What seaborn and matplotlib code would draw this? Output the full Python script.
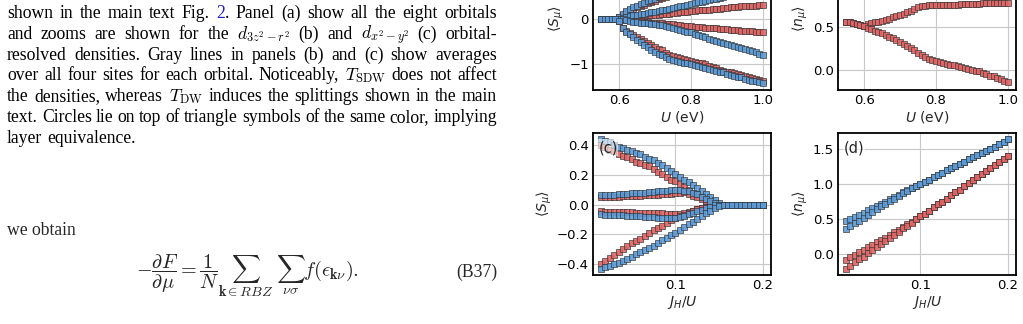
import numpy as np
import matplotlib
matplotlib.use("Agg")
import matplotlib.pyplot as plt
import seaborn as sns

# ---- data ----
U = [0.55, 0.56, 0.57, 0.58, 0.59, 0.60, 0.61, 0.62, 0.63, 0.64,
     0.65, 0.66, 0.67, 0.68, 0.69, 0.70, 0.71, 0.72, 0.73, 0.74,
     0.75, 0.76, 0.77, 0.78, 0.79, 0.80, 0.81, 0.82, 0.83, 0.84,
     0.85, 0.86, 0.87, 0.88, 0.89, 0.90, 0.91, 0.92, 0.93, 0.94,
     0.95, 0.96, 0.97, 0.98, 0.99, 1.00]

# panel (a): <S_mu> vs U
ra_up = [0, 0, 0, 0, 0, 0.04, 0.10, 0.15, 0.19, 0.23, 0.26, 0.29, 0.32, 0.35, 0.38, 0.41,
         0.44, 0.47, 0.50, 0.53, 0.56, 0.59, 0.62, 0.65, 0.68, 0.71, 0.74, 0.77, 0.80, 0.83,
         0.86, 0.89, 0.92, 0.95, 0.98, 1.01, 1.04, 1.07, 1.10, 1.13, 1.16, 1.19, 1.23, 1.27, 1.32, 1.37]
ra_um = [0, 0, 0, 0, 0, 0.00, 0.01, 0.02, 0.04, 0.05, 0.06, 0.07, 0.07, 0.08, 0.09, 0.10,
         0.10, 0.11, 0.12, 0.12, 0.13, 0.14, 0.15, 0.16, 0.16, 0.17, 0.18, 0.19, 0.20, 0.20,
         0.21, 0.22, 0.23, 0.23, 0.24, 0.25, 0.26, 0.26, 0.27, 0.28, 0.28, 0.29, 0.30, 0.30, 0.31, 0.32]
ra_lm = [0, 0, 0, 0, 0, 0.00, -0.01, -0.02, -0.03, -0.04, -0.04, -0.05, -0.06, -0.07, -0.08, -0.08,
         -0.09, -0.10, -0.11, -0.12, -0.12, -0.13, -0.14, -0.15, -0.15, -0.16, -0.17, -0.18, -0.18, -0.19,
         -0.20, -0.20, -0.21, -0.22, -0.22, -0.23, -0.24, -0.24, -0.25, -0.26, -0.26, -0.27, -0.27, -0.28, -0.28, -0.29]
ra_lo = [0, 0, 0, 0, 0, -0.05, -0.20, -0.27, -0.31, -0.35, -0.39, -0.44, -0.49, -0.54, -0.58, -0.62,
         -0.66, -0.70, -0.75, -0.79, -0.82, -0.85, -0.87, -0.89, -0.91, -0.93, -0.95, -0.97, -0.99, -1.01,
         -1.04, -1.07, -1.10, -1.13, -1.15, -1.17, -1.19, -1.21, -1.23, -1.25, -1.27, -1.29, -1.31, -1.33, -1.35, -1.37]
ba_up = [0, 0, 0, 0, 0, 0.05, 0.12, 0.18, 0.22, 0.26, 0.30, 0.33, 0.36, 0.39, 0.42, 0.45,
         0.48, 0.51, 0.54, 0.57, 0.60, 0.63, 0.66, 0.69, 0.72, 0.75, 0.78, 0.81, 0.84, 0.87,
         0.90, 0.93, 0.96, 0.99, 1.02, 1.05, 1.08, 1.12, 1.16, 1.20, 1.24, 1.28, 1.32, 1.36, 1.40, 1.43]
ba_um = [0, 0, 0, 0, 0, 0.00, 0.02, 0.04, 0.06, 0.08, 0.10, 0.11, 0.12, 0.14, 0.15, 0.16,
         0.17, 0.19, 0.20, 0.22, 0.24, 0.26, 0.28, 0.30, 0.31, 0.33, 0.35, 0.37, 0.38, 0.40,
         0.42, 0.44, 0.45, 0.47, 0.49, 0.51, 0.53, 0.55, 0.57, 0.59, 0.61, 0.63, 0.65, 0.67, 0.69, 0.71]
ba_lm = [0, 0, 0, 0, 0, 0.00, -0.01, -0.03, -0.04, -0.06, -0.07, -0.08, -0.09, -0.10, -0.11, -0.12,
         -0.13, -0.14, -0.16, -0.18, -0.20, -0.22, -0.24, -0.26, -0.28, -0.30, -0.33, -0.36, -0.38, -0.41,
         -0.44, -0.47, -0.49, -0.52, -0.54, -0.56, -0.58, -0.60, -0.62, -0.65, -0.67, -0.70, -0.72, -0.74, -0.77, -0.79]
ba_lo = [0, 0, 0, 0, 0, -0.05, -0.20, -0.28, -0.34, -0.40, -0.46, -0.52, -0.58, -0.63, -0.68, -0.73,
         -0.77, -0.81, -0.85, -0.88, -0.91, -0.93, -0.95, -0.97, -0.99, -1.01, -1.03, -1.05, -1.07, -1.09,
         -1.11, -1.13, -1.15, -1.17, -1.19, -1.22, -1.24, -1.26, -1.28, -1.30, -1.33, -1.35, -1.37, -1.39, -1.41, -1.43]

# panel (b): <n_mu> vs U
rb_up = [0.57, 0.56, 0.55, 0.54, 0.53, 0.52, 0.54, 0.55, 0.56, 0.57, 0.58, 0.59, 0.60, 0.62, 0.63, 0.65,
         0.66, 0.68, 0.70, 0.72, 0.74, 0.75, 0.755, 0.76, 0.76, 0.76, 0.765, 0.765, 0.77, 0.77,
         0.77, 0.77, 0.775, 0.775, 0.78, 0.78, 0.78, 0.78, 0.785, 0.785, 0.79, 0.79, 0.79, 0.79, 0.795, 0.795]
rb_lo = [0.57, 0.56, 0.55, 0.54, 0.53, 0.52, 0.49, 0.48, 0.46, 0.45, 0.43, 0.41, 0.39, 0.37, 0.35, 0.33,
         0.31, 0.28, 0.26, 0.23, 0.20, 0.17, 0.15, 0.13, 0.115, 0.10, 0.09, 0.08, 0.07, 0.06,
         0.05, 0.04, 0.03, 0.02, 0.01, 0.00, -0.01, -0.02, -0.04, -0.05, -0.07, -0.08, -0.10, -0.11, -0.13, -0.15]

JH = [0.015, 0.020, 0.025, 0.030, 0.035, 0.040, 0.045, 0.050, 0.055, 0.060,
      0.065, 0.070, 0.075, 0.080, 0.085, 0.090, 0.095, 0.100, 0.105, 0.110,
      0.115, 0.120, 0.125, 0.130, 0.135, 0.140, 0.145, 0.150, 0.155, 0.160,
      0.165, 0.170, 0.175, 0.180, 0.185, 0.190, 0.195, 0.200]

# panel (c): <S_mu> vs J_H/U
rc_up = [0.40, 0.39, 0.37, 0.36, 0.34, 0.33, 0.32, 0.31, 0.29, 0.28, 0.27, 0.26, 0.24, 0.22, 0.21, 0.19,
         0.17, 0.16, 0.14, 0.12, 0.10, 0.08, 0.07, 0.05, 0.03, 0.01, 0.0, 0, 0, 0, 0, 0, 0, 0, 0, 0, 0, 0]
rc_um = [0.050, 0.051, 0.052, 0.053, 0.054, 0.056, 0.057, 0.058, 0.060, 0.061, 0.063, 0.065, 0.067,
         0.069, 0.071, 0.073, 0.075, 0.078, 0.082, 0.085, 0.075, 0.062, 0.050, 0.038, 0.025, 0.012,
         0.0, 0, 0, 0, 0, 0, 0, 0, 0, 0, 0, 0]
rc_lm = [-0.045, -0.046, -0.047, -0.048, -0.049, -0.050, -0.051, -0.052, -0.053, -0.054, -0.055, -0.056,
         -0.057, -0.058, -0.059, -0.060, -0.062, -0.064, -0.062, -0.055, -0.048, -0.040, -0.032, -0.024,
         -0.016, -0.008, 0.0, 0, 0, 0, 0, 0, 0, 0, 0, 0, 0, 0]
rc_lo = [-0.40, -0.38, -0.36, -0.34, -0.32, -0.30, -0.28, -0.26, -0.245, -0.23, -0.21, -0.19, -0.17,
         -0.155, -0.14, -0.12, -0.105, -0.09, -0.078, -0.066, -0.054, -0.042, -0.03, -0.02, -0.012,
         -0.005, 0.0, 0, 0, 0, 0, 0, 0, 0, 0, 0, 0, 0]
bc_up = [0.44, 0.43, 0.42, 0.40, 0.39, 0.38, 0.37, 0.36, 0.35, 0.34, 0.32, 0.31, 0.30, 0.28, 0.27, 0.25,
         0.23, 0.21, 0.19, 0.17, 0.15, 0.13, 0.11, 0.09, 0.07, 0.05, 0.03, 0.01, 0, 0, 0, 0, 0, 0, 0, 0, 0, 0]
bc_um = [0.065, 0.066, 0.067, 0.068, 0.070, 0.072, 0.074, 0.076, 0.078, 0.080, 0.082, 0.085, 0.088,
         0.090, 0.093, 0.095, 0.098, 0.100, 0.100, 0.095, 0.090, 0.080, 0.070, 0.055, 0.040, 0.025,
         0.010, 0.0, 0, 0, 0, 0, 0, 0, 0, 0, 0, 0]
bc_lm = [-0.065, -0.066, -0.067, -0.068, -0.070, -0.071, -0.073, -0.074, -0.076, -0.078, -0.080, -0.082,
         -0.084, -0.086, -0.088, -0.090, -0.092, -0.092, -0.085, -0.075, -0.065, -0.055, -0.045, -0.035,
         -0.025, -0.015, -0.005, 0.0, 0, 0, 0, 0, 0, 0, 0, 0, 0, 0]
bc_lo = [-0.43, -0.42, -0.41, -0.40, -0.39, -0.38, -0.365, -0.35, -0.335, -0.32, -0.305, -0.29, -0.275,
         -0.26, -0.24, -0.225, -0.205, -0.19, -0.17, -0.15, -0.13, -0.115, -0.095, -0.075, -0.055,
         -0.04, -0.025, -0.01, 0, 0, 0, 0, 0, 0, 0, 0, 0, 0]

# panel (d): <n_mu> vs J_H/U
rd_up = [-0.08, -0.04, -0.01, 0.03, 0.06, 0.10, 0.13, 0.17, 0.21, 0.24, 0.28, 0.32, 0.35, 0.39, 0.43, 0.46,
         0.50, 0.54, 0.58, 0.62, 0.67, 0.71, 0.75, 0.79, 0.84, 0.88, 0.92, 0.97, 1.01, 1.05,
         1.10, 1.14, 1.18, 1.23, 1.27, 1.31, 1.36, 1.40]
rd_lo = [-0.20, -0.16, -0.11, -0.07, -0.03, 0.02, 0.06, 0.10, 0.15, 0.19, 0.23, 0.28, 0.32, 0.37, 0.41, 0.45,
         0.50, 0.54, 0.58, 0.62, 0.67, 0.71, 0.75, 0.79, 0.84, 0.88, 0.92, 0.97, 1.01, 1.05,
         1.10, 1.14, 1.18, 1.23, 1.27, 1.31, 1.36, 1.40]
bd_up = [0.47, 0.50, 0.53, 0.56, 0.59, 0.63, 0.66, 0.69, 0.72, 0.75, 0.78, 0.81, 0.84, 0.88, 0.91, 0.94,
         0.97, 1.00, 1.03, 1.06, 1.10, 1.13, 1.16, 1.19, 1.22, 1.25, 1.28, 1.31, 1.35, 1.38,
         1.41, 1.44, 1.47, 1.50, 1.53, 1.56, 1.60, 1.63]
bd_lo = [0.36, 0.40, 0.44, 0.48, 0.52, 0.56, 0.60, 0.64, 0.68, 0.72, 0.76, 0.79, 0.83, 0.87, 0.90, 0.94,
         0.97, 1.00, 1.03, 1.06, 1.10, 1.13, 1.16, 1.19, 1.22, 1.25, 1.28, 1.31, 1.35, 1.38,
         1.41, 1.44, 1.47, 1.50, 1.53, 1.56, 1.60, 1.63]

RED = "#e06464"
BLUE = "#5b9bd8"

sns.set_style("whitegrid", {"axes.edgecolor": "black", "grid.color": "#c8c8c8"})
plt.rcParams["font.family"] = ["DejaVu Sans"]
plt.rcParams["mathtext.fontset"] = "dejavusans"
plt.rcParams["axes.linewidth"] = 1.3

W, H = 1023, 324
fig = plt.figure(figsize=(W / 100, H / 100), dpi=100)

def box(x0, y0, x1, y1):
    # pixel box -> figure fraction
    return [x0 / W, 1 - y1 / H, (x1 - x0) / W, (y1 - y0) / H]

ax_a = fig.add_axes(box(593, -52, 771, 90))
ax_b = fig.add_axes(box(838, -52, 1016, 90))
ax_c = fig.add_axes(box(593, 133, 771, 275))
ax_d = fig.add_axes(box(838, 133, 1016, 275))

def dots(ax, x, y, c):
    sns.scatterplot(x=x, y=y, ax=ax, color=c, marker="s", s=20,
                    edgecolor="#303030", linewidth=0.5, alpha=0.9, legend=False)

for ser in [ra_up, ra_um, ra_lm, ra_lo]:
    dots(ax_a, U, ser, RED)
for ser in [ba_up, ba_um, ba_lm, ba_lo]:
    dots(ax_a, U, ser, BLUE)
for ser in [rb_up, rb_lo]:
    dots(ax_b, U, ser, RED)
for ser in [rc_up, rc_um, rc_lm, rc_lo]:
    dots(ax_c, JH, ser, RED)
for ser in [bc_up, bc_um, bc_lm, bc_lo]:
    dots(ax_c, JH, ser, BLUE)
for ser in [rd_up, rd_lo]:
    dots(ax_d, JH, ser, RED)
for ser in [bd_up, bd_lo]:
    dots(ax_d, JH, ser, BLUE)

ax_a.set_ylim(-1.58, 1.58)
ax_a.set_yticks([-1, 0, 1])
ax_b.set_ylim(-0.24, 1.44)
ax_b.set_yticks([0.0, 0.5, 1.0])
ax_c.set_yticks([-0.4, -0.2, 0.0, 0.2, 0.4])
ax_d.set_yticks([0.0, 0.5, 1.0, 1.5])
for ax in (ax_a, ax_b):
    ax.set_xticks([0.6, 0.8, 1.0])
    ax.set_xlabel(r"$U$ (eV)", fontsize=10, labelpad=1)
for ax in (ax_c, ax_d):
    ax.set_xticks([0.1, 0.2])
    ax.set_xlabel(r"$J_H/U$", fontsize=10, labelpad=1)
for ax in (ax_a, ax_c):
    ax.set_ylabel(r"$\langle S_\mu \rangle$", fontsize=10, labelpad=2)
for ax in (ax_b, ax_d):
    ax.set_ylabel(r"$\langle n_\mu \rangle$", fontsize=10, labelpad=2)
for ax, lab in zip((ax_a, ax_b, ax_c, ax_d), ["(a)", "(b)", "(c)", "(d)"]):
    ax.tick_params(labelsize=9.5, length=0, pad=3, colors="black")
    for sp in ax.spines.values():
        sp.set_color("black")
        sp.set_linewidth(1.3)
    ax.text(0.03, 0.95, lab, transform=ax.transAxes, fontsize=10.5, va="top", ha="left",
            bbox=dict(facecolor="white", alpha=0.6, edgecolor="none", pad=0.5))

# ---- paragraph text on the left ----
FS = 12.7
renderer = fig.canvas.get_renderer()
K = "black"
LINK = "#1f1fd0"

def words(s):
    return [[(w, K)] for w in s.split()]

lines = [
    words("shown in the main text Fig.") + [[("2", LINK), (".", K)]] + words("Panel (a) show all the eight orbitals"),
    words("and zooms are shown for the") + [[(r"$d_{3z^2-r^2}$", K)]] + words("(b) and")
    + [[(r"$d_{x^2-y^2}$", K)]] + words("(c) orbital-"),
    words("resolved densities. Gray lines in panels (b) and (c) show averages"),
    words("over all four sites for each orbital. Noticeably,") + [[(r"$T_{\mathrm{SDW}}$", K)]]
    + words("does not affect"),
    words("the densities, whereas") + [[(r"$T_{\mathrm{DW}}$", K)]]
    + words("induces the splittings shown in the main"),
    words("text. Circles lie on top of triangle symbols of the same color, implying"),
    words("layer equivalence."),
]

def put_line(ws, ybase, x0, x1, justify):
    arts = []
    for w in ws:
        pieces = []
        for s, c in w:
            t = fig.text(0, 1 - ybase / H, s, color=c, fontsize=FS, family="Liberation Serif",
                         math_fontfamily="cm", va="baseline", ha="left")
            pieces.append((t, t.get_window_extent(renderer).width))
        arts.append(pieces)
    widths = [sum(p[1] for p in w) for w in arts]
    gap = (x1 - x0 - sum(widths)) / (len(arts) - 1) if justify else 4.5
    x = x0
    for w in arts:
        for t, pw in w:
            t.set_x(x / W)
            x += pw
        x += gap

for i, ws in enumerate(lines):
    put_line(ws, 18.3 + 20.7 * i, 7, 497, i < len(lines) - 1)

fig.text(7 / W, 1 - 235 / H, "we obtain", fontsize=FS, family="Liberation Serif", va="baseline")
fig.text(247 / W, 1 - 276 / H,
         r"$-\dfrac{\partial F}{\partial \mu} = \dfrac{1}{N}\sum_{\mathbf{k}\in RBZ}\ \sum_{\nu\sigma} f(\epsilon_{\mathbf{k}\nu}).$",
         fontsize=14.5, math_fontfamily="cm", va="baseline", ha="center")
fig.text(497 / W, 1 - 277 / H, "(B37)", fontsize=FS, family="Liberation Serif", va="baseline", ha="right")

fig.savefig("out.png", dpi=100)
